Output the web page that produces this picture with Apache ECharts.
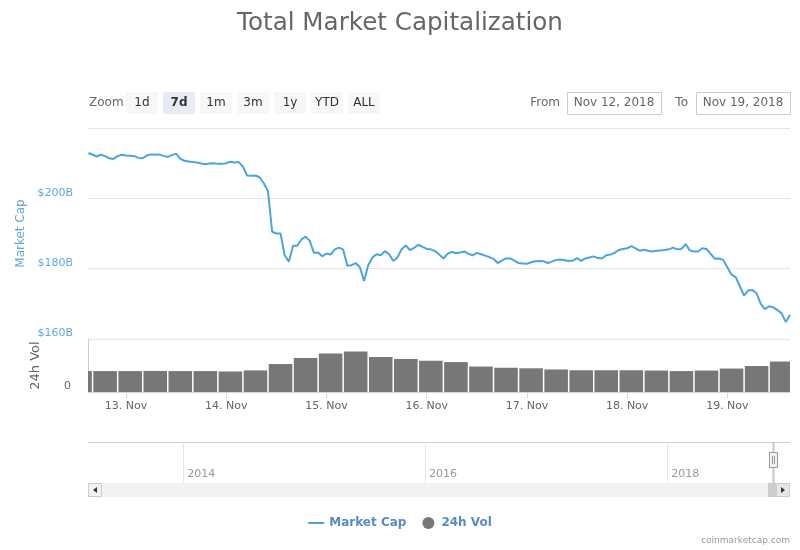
<!DOCTYPE html>
<html>
<head>
<meta charset="utf-8">
<title>Total Market Capitalization</title>
<script src="https://cdn.jsdelivr.net/npm/echarts@6/dist/echarts.min.js"></script>
<style>
  html, body { margin: 0; padding: 0; background: #fff; }
  #container { width: 800px; height: 550px; }
</style>
</head>
<body>
<div id="container"></div>
<script>
// market cap in billions USD, hourly from 12 Nov 2018 15:00 UTC
const capStart = Date.UTC(2018, 10, 12, 15, 0);
const capValues = [
  212.9, 212.4, 211.9, 212.4, 212.0, 211.4, 211.2, 212.0, 212.4, 212.2,
  212.1, 212.0, 211.5, 211.4, 212.2, 212.5, 212.4, 212.5, 212.0, 211.8,
  212.3, 212.7, 211.2, 210.7, 210.5, 210.3, 210.2, 209.9, 209.7, 209.9,
  210.0, 209.8, 209.8, 210.0, 210.4, 210.2, 210.3, 209.0, 206.5, 206.4,
  206.5, 206.0, 204.3, 202.0, 190.5, 190.0, 190.0, 183.8, 182.0, 186.5,
  186.5, 188.3, 189.1, 187.9, 184.5, 184.6, 183.5, 184.3, 184.0, 185.5,
  186.0, 185.4, 180.8, 181.0, 181.6, 180.4, 176.5, 181.0, 183.2, 184.1,
  183.8, 185.0, 184.1, 182.2, 183.2, 185.5, 186.6, 185.3, 185.9, 186.8,
  186.2, 185.6, 185.5, 185.0, 184.0, 182.9, 184.2, 184.8, 184.4, 184.6,
  184.9, 184.2, 183.8, 184.5, 184.1, 183.7, 183.3, 182.8, 181.6, 182.3,
  182.9, 182.9, 182.3, 181.6, 181.5, 181.4, 181.8, 182.1, 182.2, 182.1,
  181.6, 182.0, 182.5, 182.6, 182.4, 182.2, 182.3, 183.0, 182.2, 182.9,
  183.2, 183.5, 183.0, 182.9, 183.8, 184.0, 184.5, 185.3, 185.6, 185.8,
  186.4, 185.8, 185.1, 185.4, 185.1, 184.9, 185.1, 185.2, 185.3, 185.5,
  186.0, 185.5, 185.6, 187.0, 185.2, 184.9, 184.9, 185.8, 185.6, 184.2,
  182.8, 182.9, 182.5, 180.4, 178.3, 177.6, 175.0, 172.3, 173.8, 173.9,
  173.0, 170.0, 168.5, 169.3, 169.0, 168.2, 167.3, 164.8, 166.9
];

// 24h volume in billions USD, 6-hour groups centred from 12 Nov 2018 13:00 UTC
const volStart = Date.UTC(2018, 10, 12, 13, 0);
const volValues = [
  15.8, 15.8, 15.8, 15.9, 15.8, 15.8, 15.5, 16.3, 21.1, 25.7,
  29.1, 30.6, 26.4, 24.9, 23.6, 22.6, 19.2, 18.3, 17.9, 17.0,
  16.4, 16.4, 16.4, 16.2, 15.8, 16.2, 17.7, 19.6, 23.0
];

const navigatorYears = [2014, 2016, 2018];
const zoomButtons = ['1d', '7d', '1m', '3m', '1y', 'YTD', 'ALL'];
const selectedButton = '7d';
const fromLabel = 'Nov 12, 2018';
const toLabel = 'Nov 19, 2018';

const HOUR = 3600 * 1000;
const DAY = 24 * HOUR;
const capData = capValues.map((v, i) => [capStart + i * HOUR, v]);
const volData = volValues.map((v, i) => [volStart + i * 6 * HOUR, v]);
const navTicks = navigatorYears.map(y => Date.UTC(y, 0, 1));

const viewMin = Date.UTC(2018, 10, 12, 14, 54);
const viewMax = Date.UTC(2018, 10, 19, 15, 0);

const FONT = 'DejaVu Sans';
const capColor = '#4ba5dd';
const capLabelColor = '#5fa9dd';
const volColor = '#777777';

// range selector + scrollbar chrome
const graphics = [];
graphics.push({ type: 'text', left: 89, top: 97, style: { text: 'Zoom', fill: '#666', font: '12px ' + FONT } });
zoomButtons.forEach((b, i) => {
  const x = 126 + i * 37;
  const sel = b === selectedButton;
  graphics.push({ type: 'rect', shape: { x: x, y: 92, width: 32, height: 22, r: 2 },
    style: { fill: sel ? '#e6ebf5' : '#f7f7f7' } });
  graphics.push({ type: 'text', x: x + 16, y: 103,
    style: { text: b, fill: '#333', align: 'center', verticalAlign: 'middle',
      font: (sel ? 'bold ' : '') + '12px ' + FONT } });
});
graphics.push({ type: 'text', x: 560, y: 103, style: { text: 'From', fill: '#666', align: 'right', verticalAlign: 'middle', font: '12px ' + FONT } });
graphics.push({ type: 'rect', shape: { x: 567.5, y: 92.5, width: 94, height: 22 }, style: { fill: '#fff', stroke: '#cccccc' } });
graphics.push({ type: 'text', x: 614, y: 103, style: { text: fromLabel, fill: '#666', align: 'center', verticalAlign: 'middle', font: '12px ' + FONT } });
graphics.push({ type: 'text', x: 688, y: 103, style: { text: 'To', fill: '#666', align: 'right', verticalAlign: 'middle', font: '12px ' + FONT } });
graphics.push({ type: 'rect', shape: { x: 696.5, y: 92.5, width: 94, height: 22 }, style: { fill: '#fff', stroke: '#cccccc' } });
graphics.push({ type: 'text', x: 743, y: 103, style: { text: toLabel, fill: '#666', align: 'center', verticalAlign: 'middle', font: '12px ' + FONT } });

// navigator frame
graphics.push({ type: 'line', shape: { x1: 88, y1: 442.5, x2: 790, y2: 442.5 }, style: { stroke: '#cccccc', lineWidth: 1 } });
graphics.push({ type: 'line', shape: { x1: 773.5, y1: 442, x2: 773.5, y2: 483 }, style: { stroke: '#c8c8c8', lineWidth: 2 } });
// scrollbar
graphics.push({ type: 'rect', shape: { x: 88, y: 483, width: 702, height: 14 }, style: { fill: '#f2f2f2' } });
graphics.push({ type: 'rect', shape: { x: 768, y: 483, width: 8, height: 14 }, style: { fill: '#cccccc' } });
graphics.push({ type: 'rect', shape: { x: 88.5, y: 483.5, width: 13, height: 13 }, style: { fill: '#f2f2f2', stroke: '#cccccc' } });
graphics.push({ type: 'polygon', shape: { points: [[93, 490], [97, 487], [97, 493]] }, style: { fill: '#333' } });
graphics.push({ type: 'rect', shape: { x: 776.5, y: 483.5, width: 13, height: 13 }, style: { fill: '#e6e6e6', stroke: '#cccccc' } });
graphics.push({ type: 'polygon', shape: { points: [[785, 490], [781, 487], [781, 493]] }, style: { fill: '#333' } });
// navigator handle
graphics.push({ type: 'rect', shape: { x: 769.5, y: 452.5, width: 8, height: 15 }, style: { fill: '#f2f2f2', stroke: '#999' } });
graphics.push({ type: 'line', shape: { x1: 772.5, y1: 456, x2: 772.5, y2: 464 }, style: { stroke: '#999' } });
graphics.push({ type: 'line', shape: { x1: 774.5, y1: 456, x2: 774.5, y2: 464 }, style: { stroke: '#999' } });
// credits
graphics.push({ type: 'text', x: 790, y: 541, style: { text: 'coinmarketcap.com', fill: '#999', align: 'right', verticalAlign: 'middle', font: '9px ' + FONT } });

// 6h volume columns drawn through the axis scales, with a thin white gap
function renderVolume(params, api) {
  const t = api.value(0);
  const p0 = api.coord([t - 3 * HOUR, api.value(1)]);
  const p1 = api.coord([t + 3 * HOUR, 0]);
  const rect = echarts.graphic.clipRectByRect(
    { x: p0[0] + 0.75, y: p0[1], width: p1[0] - p0[0] - 1.5, height: p1[1] - p0[1] },
    { x: params.coordSys.x, y: params.coordSys.y, width: params.coordSys.width, height: params.coordSys.height }
  );
  return rect && { type: 'rect', shape: rect, style: { fill: volColor } };
}

const chart = echarts.init(document.getElementById('container'), null, { renderer: 'canvas' });
chart.setOption({
  useUTC: true,
  animation: false,
  backgroundColor: '#fff',
  textStyle: { fontFamily: FONT },
  title: {
    text: 'Total Market Capitalization',
    left: 'center', top: 6,
    textStyle: { fontFamily: FONT, fontSize: 24.6, fontWeight: 'normal', color: '#666' }
  },
  legend: {
    left: 'center', top: 512,
    itemWidth: 16, itemHeight: 12, itemGap: 16,
    textStyle: { fontFamily: FONT, fontSize: 12, fontWeight: 'bold', color: '#5a8ac2' },
    data: [
      { name: 'Market Cap', icon: 'path://M0,0L16,0L16,2L0,2Z' },
      { name: '24h Vol', icon: 'circle' }
    ]
  },
  graphic: graphics,
  grid: [
    { left: 88, right: 10, top: 128, height: 211 },
    { left: 88, right: 10, top: 339, height: 53 },
    { left: 88, right: 10, top: 442, height: 41 }
  ],
  xAxis: [
    { type: 'time', gridIndex: 0, min: viewMin, max: viewMax, show: false },
    {
      type: 'time', gridIndex: 1, min: viewMin, max: viewMax,
      minInterval: DAY, maxInterval: DAY,
      axisLine: { lineStyle: { color: '#ccd6eb' } },
      axisTick: { length: 6, lineStyle: { color: '#ccd6eb' } },
      axisLabel: { formatter: '{d}. {MMM}', color: '#666', fontSize: 11, margin: 9, fontFamily: FONT },
      splitLine: { show: false }
    },
    {
      type: 'time', gridIndex: 2,
      min: Date.UTC(2013, 2, 19), max: Date.UTC(2019, 0, 7),
      axisLine: { show: false },
      axisTick: { show: false, customValues: navTicks },
      axisLabel: { inside: true, customValues: navTicks, formatter: '{yyyy}', color: '#999', fontSize: 11, align: 'left', margin: 3, padding: [0, 0, 0, 4], fontFamily: FONT },
      splitLine: { show: true, lineStyle: { color: '#e6e6e6' } }
    }
  ],
  yAxis: [
    {
      type: 'value', gridIndex: 0, min: 160, max: 220, interval: 20,
      name: 'Market Cap', nameLocation: 'middle', nameGap: 59,
      nameTextStyle: { color: capLabelColor, fontSize: 12, fontFamily: FONT },
      axisLine: { show: false }, axisTick: { show: false },
      axisLabel: {
        formatter: v => '$' + v + 'B', color: capLabelColor, fontSize: 11,
        verticalAlign: 'bottom', margin: 15, showMaxLabel: false, fontFamily: FONT
      },
      splitLine: { lineStyle: { color: '#e6e6e6' } }
    },
    {
      type: 'value', gridIndex: 1, min: 0, max: 40, interval: 40,
      name: '24h Vol', nameLocation: 'middle', nameGap: 46,
      nameTextStyle: { color: '#666', fontSize: 13, fontFamily: FONT },
      axisLine: { show: true, lineStyle: { color: '#cccccc' } }, axisTick: { show: false },
      axisLabel: { color: '#666', fontSize: 11, verticalAlign: 'bottom', margin: 17, showMaxLabel: false, fontFamily: FONT },
      splitLine: { lineStyle: { color: '#e6e6e6' } }
    },
    { type: 'value', gridIndex: 2, show: false }
  ],
  series: [
    {
      name: 'Market Cap', type: 'line', xAxisIndex: 0, yAxisIndex: 0,
      data: capData, symbol: 'none', color: capColor,
      lineStyle: { width: 2, color: capColor }
    },
    {
      name: '24h Vol', type: 'custom', xAxisIndex: 1, yAxisIndex: 1,
      data: volData, encode: { x: 0, y: 1 }, color: volColor,
      itemStyle: { color: volColor },
      renderItem: renderVolume
    }
  ]
});
</script>
</body>
</html>
